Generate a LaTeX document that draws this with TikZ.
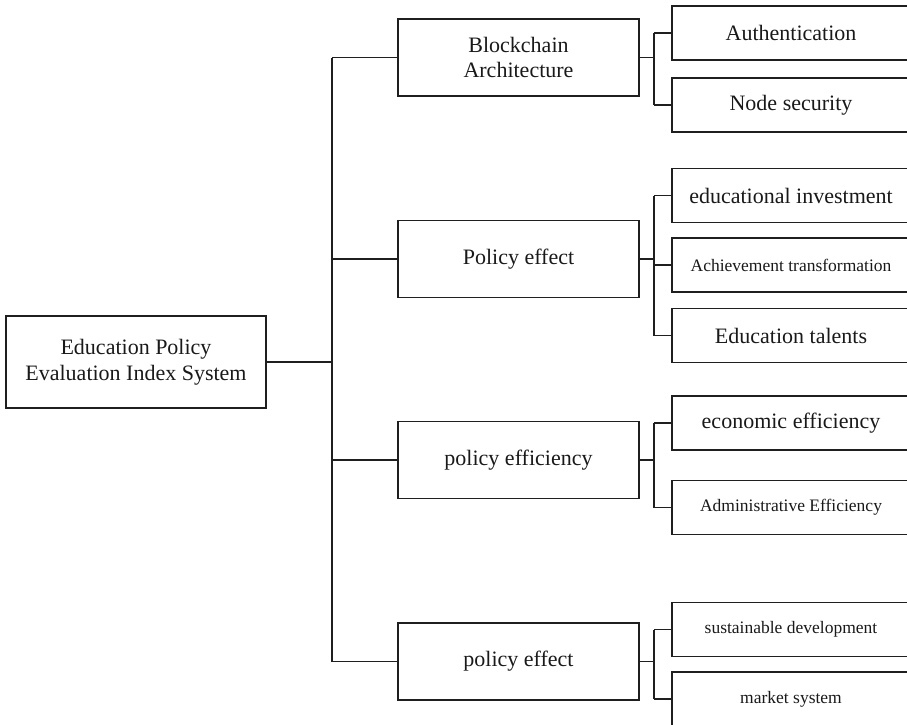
\documentclass[tikz,border=0pt]{standalone}
\usepackage{fontspec}
\setmainfont{Liberation Serif}
\begin{document}
\begin{tikzpicture}[x=1pt,y=-1pt,
  conn/.style={line width=1.9pt,draw=black!88},
  box/.style={draw=black!88,line width=1.9pt,inner sep=0pt,align=center,
    font=\fontsize{22}{25.5}\selectfont,text=black!90},
  rootbox/.style={box,minimum width=260pt,minimum height=92pt},
  midbox/.style={box,minimum width=241pt,minimum height=77pt},
  leafbox/.style={box,minimum width=238pt,minimum height=54pt},
  small/.style={font=\fontsize{17.5}{20}\selectfont}]
\useasboundingbox (0,0) rectangle (907,724);
\clip (0,0) rectangle (907,724);
% root
\node[rootbox] (root) at (136,362) {Education Policy\\Evaluation Index System};
% level 1
\node[midbox] (b1) at (518.5,57.5) {Blockchain\\Architecture};
\node[midbox] (b2) at (518.5,259) {Policy effect};
\node[midbox] (b3) at (518.5,460) {policy efficiency};
\node[midbox] (b4) at (518.5,661.5) {policy effect};
% level 2
\node[leafbox] (c11) at (791,33) {Authentication};
\node[leafbox] (c12) at (791,105) {Node security};
\node[leafbox] (c21) at (791,195.5) {educational investment};
\node[leafbox,small] (c22) at (791,265) {Achievement transformation};
\node[leafbox] (c23) at (791,335.5) {Education talents};
\node[leafbox] (c31) at (791,423) {economic efficiency};
\node[leafbox,small] (c32) at (791,507.5) {Administrative Efficiency};
\node[leafbox,small] (c41) at (791,629.5) {sustainable development};
\node[leafbox,small] (c42) at (791,699) {market system};
% trunk coordinates
\coordinate (tk) at (332,0);
\coordinate (s) at (654,0);
% root to trunk
\draw[conn] (root.east) -- (root.east -| tk);
\draw[conn] (tk |- b1.west) -- (tk |- b4.west);
\foreach \b in {b1,b2,b3,b4} \draw[conn] (tk |- \b.west) -- (\b.west);
% group 1
\draw[conn] (b1.east) -- (b1.east -| s);
\draw[conn] (s |- c11.west) -- (s |- c12.west);
\foreach \c in {c11,c12} \draw[conn] (s |- \c.west) -- (\c.west);
% group 2
\draw[conn] (b2.east) -- (b2.east -| s);
\draw[conn] (s |- c21.west) -- (s |- c23.west);
\foreach \c in {c21,c22,c23} \draw[conn] (s |- \c.west) -- (\c.west);
% group 3
\draw[conn] (b3.east) -- (b3.east -| s);
\draw[conn] (s |- c31.west) -- (s |- c32.west);
\foreach \c in {c31,c32} \draw[conn] (s |- \c.west) -- (\c.west);
% group 4
\draw[conn] (b4.east) -- (b4.east -| s);
\draw[conn] (s |- c41.west) -- (s |- c42.west);
\foreach \c in {c41,c42} \draw[conn] (s |- \c.west) -- (\c.west);
\end{tikzpicture}
\end{document}
